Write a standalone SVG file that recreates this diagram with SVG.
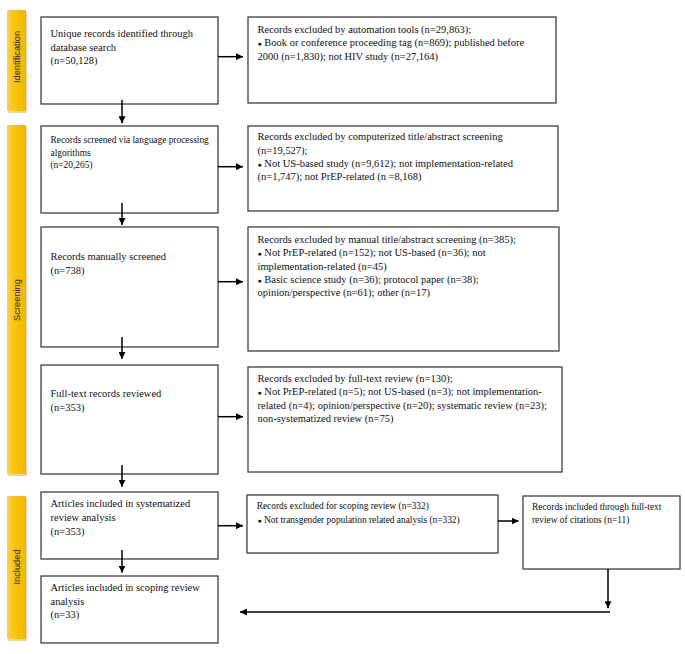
<svg xmlns="http://www.w3.org/2000/svg" width="685" height="654" viewBox="0 0 685 654">
<defs>
<linearGradient id="gold" x1="0" y1="0" x2="1" y2="0">
<stop offset="0" stop-color="#FFD23C"/>
<stop offset="0.5" stop-color="#F7C200"/>
<stop offset="1" stop-color="#EDB800"/>
</linearGradient>
<marker id="ah" viewBox="0 0 10 10" refX="10" refY="5" markerWidth="7" markerHeight="7" markerUnits="userSpaceOnUse" orient="auto">
<path d="M0,0 L10,5 L0,10 Z" fill="#000"/>
</marker>
</defs>
<style>
.box{fill:#fff;stroke:#404040;stroke-width:1.3}
.shadow{fill:#000;opacity:0.08}
.bar{fill:url(#gold)}
.barsh{fill:#888;opacity:0.35}
.lab{font-family:"Liberation Sans",Arial,sans-serif;font-size:9.3px;fill:#222}
.t{font-family:"Liberation Serif","Times New Roman",serif;font-size:10.5px;fill:#111}
.s{font-family:"Liberation Serif","Times New Roman",serif;font-size:9.4px;fill:#111}
.b{font-size:7px}
.conn{stroke:#000;stroke-width:1.5;fill:none;marker-end:url(#ah)}
.line{stroke:#000;stroke-width:1.5;fill:none}
</style>
<rect width="685" height="654" fill="#fff"/>

<g id="phase-identification">
<rect class="barsh" x="8" y="12" width="19" height="101"/>
<rect class="bar" x="7" y="10" width="19" height="101"/>
<text class="lab" transform="translate(19.5,57) rotate(-90)" text-anchor="middle">Identification</text>
</g>
<g id="phase-screening">
<rect class="barsh" x="8" y="127" width="19" height="349"/>
<rect class="bar" x="7" y="125" width="19" height="349"/>
<text class="lab" transform="translate(19.5,300) rotate(-90)" text-anchor="middle">Screening</text>
</g>
<g id="phase-included">
<rect class="barsh" x="8" y="498" width="19" height="143"/>
<rect class="bar" x="7" y="496" width="19" height="143"/>
<text class="lab" transform="translate(19.5,567) rotate(-90)" text-anchor="middle">Included</text>
</g>

<g id="n1">
<rect class="box" x="41" y="17" width="177" height="87"/>
<text class="t" x="50.5" y="37">Unique records identified through</text>
<text class="t" x="50.5" y="50.5">database search</text>
<text class="t" x="50.5" y="64">(n=50,128)</text>
</g>
<g id="n2">
<rect class="box" x="41" y="126" width="177" height="87"/>
<text class="s" x="50.5" y="143.3">Records screened via language processing</text>
<text class="s" x="50.5" y="156.3">algorithms</text>
<text class="s" x="50.5" y="168">(n=20,265)</text>
</g>
<g id="n3">
<rect class="box" x="41" y="227" width="177" height="120"/>
<text class="t" x="50.5" y="260.3">Records manually screened</text>
<text class="t" x="50.5" y="274">(n=738)</text>
</g>
<g id="n4">
<rect class="box" x="41" y="365" width="177" height="109"/>
<text class="t" x="50.5" y="397">Full-text records reviewed</text>
<text class="t" x="50.5" y="410.5">(n=353)</text>
</g>
<g id="n5">
<rect class="box" x="41" y="492" width="177" height="67"/>
<text class="t" x="50.5" y="507">Articles included in systematized</text>
<text class="t" x="50.5" y="521">review analysis</text>
<text class="t" x="50.5" y="534.5">(n=353)</text>
</g>
<g id="n6">
<rect class="box" x="41" y="576" width="177" height="67"/>
<text class="t" x="50.5" y="591">Articles included in scoping review</text>
<text class="t" x="50.5" y="604.5">analysis</text>
<text class="t" x="50.5" y="618">(n=33)</text>
</g>

<g id="r1">
<rect class="box" x="248" y="17" width="308" height="86"/>
<text class="t" x="257.5" y="33">Records excluded by automation tools (n=29,863);</text>
<text class="t" x="257.5" y="46.3"><tspan class="b">●</tspan> Book or conference proceeding tag (n=869); published before</text>
<text class="t" x="257.5" y="59.6">2000 (n=1,830); not HIV study (n=27,164)</text>
</g>
<g id="r2">
<rect class="box" x="248" y="126" width="310" height="85"/>
<text class="t" x="257.5" y="140.3">Records excluded by computerized title/abstract screening</text>
<text class="t" x="257.5" y="153.6">(n=19,527);</text>
<text class="t" x="257.5" y="167"><tspan class="b">●</tspan> Not US-based study (n=9,612); not implementation-related</text>
<text class="t" x="257.5" y="180.3">(n=1,747); not PrEP-related (n =8,168)</text>
</g>
<g id="r3">
<rect class="box" x="248" y="227" width="311" height="124"/>
<text class="t" x="257.5" y="243">Records excluded by manual title/abstract screening (n=385);</text>
<text class="t" x="257.5" y="256.3"><tspan class="b">●</tspan> Not PrEP-related (n=152); not US-based (n=36); not</text>
<text class="t" x="257.5" y="269.6">implementation-related (n=45)</text>
<text class="t" x="257.5" y="283"><tspan class="b">●</tspan> Basic science study (n=36); protocol paper (n=38);</text>
<text class="t" x="257.5" y="296.3">opinion/perspective (n=61); other (n=17)</text>
</g>
<g id="r4">
<rect class="box" x="248" y="367" width="314" height="105"/>
<text class="t" x="257.5" y="382">Records excluded by full-text review (n=130);</text>
<text class="t" x="257.5" y="395.3"><tspan class="b">●</tspan> Not PrEP-related (n=5); not US-based (n=3); not implementation-</text>
<text class="t" x="257.5" y="408.6">related (n=4); opinion/perspective (n=20); systematic review (n=23);</text>
<text class="t" x="257.5" y="422">non-systematized review (n=75)</text>
</g>
<g id="r5">
<rect class="box" x="247" y="495" width="251" height="58"/>
<text class="s" x="256.7" y="509.3">Records excluded for scoping review (n=332)</text>
<text class="s" x="257.5" y="522.6"><tspan class="b">●</tspan> Not transgender population related analysis (n=332)</text>
</g>
<g id="r6">
<rect class="box" x="523" y="496" width="157" height="73"/>
<text class="s" x="532" y="510">Records included through full-text</text>
<text class="s" x="532" y="522.5">review of citations (n=11)</text>
</g>

<g id="connectors">
<line class="conn" x1="218" y1="56.7" x2="243" y2="56.7"/>
<line class="conn" x1="218" y1="166.7" x2="243" y2="166.7"/>
<line class="conn" x1="218" y1="281.7" x2="243" y2="281.7"/>
<line class="conn" x1="218" y1="416.7" x2="243" y2="416.7"/>
<line class="conn" x1="218" y1="525.7" x2="243" y2="525.7"/>
<line class="conn" x1="498" y1="521" x2="518.5" y2="521"/>
<line class="conn" x1="122" y1="100" x2="122" y2="123.3"/>
<line class="conn" x1="122" y1="203" x2="122" y2="225"/>
<line class="conn" x1="122" y1="337" x2="122" y2="359"/>
<line class="conn" x1="122" y1="465" x2="122" y2="486.7"/>
<line class="conn" x1="122" y1="550" x2="122" y2="572.7"/>
<line class="conn" x1="608" y1="569" x2="608" y2="608.3"/>
<line class="conn" x1="610" y1="612" x2="240" y2="612"/>
</g>
</svg>
